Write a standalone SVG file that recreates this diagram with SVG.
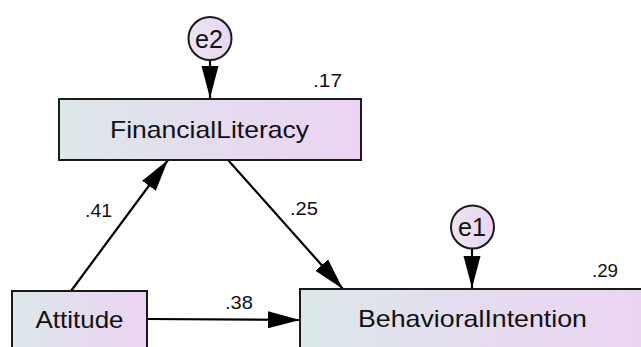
<svg xmlns="http://www.w3.org/2000/svg" width="641" height="347" viewBox="0 0 641 347">
<style>
.box{stroke:#1a1a1a;stroke-width:2;fill:url(#g)}
.circ{stroke:#1a1a1a;stroke-width:2;fill:url(#gc)}
.lbl{font-family:"Liberation Sans",Arial,sans-serif;font-size:24px;fill:#111;text-anchor:middle}
.num{font-family:"Liberation Sans",Arial,sans-serif;font-size:19px;fill:#111}
.err{font-family:"Liberation Sans",Arial,sans-serif;font-size:25px;fill:#111;text-anchor:middle}
.conn line{stroke:#000;stroke-width:2.2;marker-end:url(#ah)}
</style>
<defs>
<linearGradient id="g" x1="0" y1="0" x2="1" y2="0">
<stop offset="0" stop-color="#dce8e9"/>
<stop offset="0.55" stop-color="#e6dbef"/>
<stop offset="1" stop-color="#ebd4f3"/>
</linearGradient>
<linearGradient id="gc" x1="0" y1="0" x2="1" y2="0">
<stop offset="0" stop-color="#ebe6ef"/>
<stop offset="1" stop-color="#ead5f2"/>
</linearGradient>
<marker id="ah" markerUnits="userSpaceOnUse" markerWidth="34" markerHeight="18" refX="32" refY="8.5" orient="auto" viewBox="0 0 34 17">
<path d="M0,0 L32,8.5 L0,17 z" fill="#000"/>
</marker>
</defs>
<g class="conn" id="connectors">
<line x1="210" y1="60" x2="210" y2="98"/>
<line x1="472" y1="247" x2="472" y2="288"/>
<line x1="71" y1="291" x2="168" y2="160"/>
<line x1="228" y1="160" x2="343" y2="289"/>
<line x1="147" y1="319" x2="300" y2="320"/>
</g>
<g id="e2">
<circle class="circ" cx="210" cy="38.5" r="21.5"/>
<text class="err" x="209" y="47.5" textLength="28" lengthAdjust="spacingAndGlyphs">e2</text>
</g>
<g id="e1">
<circle class="circ" cx="472.5" cy="227" r="21.5"/>
<text class="err" x="472" y="236" textLength="28" lengthAdjust="spacingAndGlyphs">e1</text>
</g>
<g id="FinancialLiteracy">
<rect class="box" x="59" y="99" width="302" height="61"/>
<text class="lbl" x="209.5" y="137.5" textLength="199" lengthAdjust="spacingAndGlyphs">FinancialLiteracy</text>
<text class="num" x="313" y="87" textLength="29" lengthAdjust="spacingAndGlyphs">.17</text>
</g>
<g id="Attitude">
<rect class="box" x="12" y="291" width="135" height="61"/>
<text class="lbl" x="79.5" y="328" textLength="88" lengthAdjust="spacingAndGlyphs">Attitude</text>
</g>
<g id="BehavioralIntention">
<rect class="box" x="300" y="289" width="346" height="61"/>
<text class="lbl" x="472.5" y="327" textLength="229" lengthAdjust="spacingAndGlyphs">BehavioralIntention</text>
<text class="num" x="592" y="277" textLength="26" lengthAdjust="spacingAndGlyphs">.29</text>
</g>
<g id="path-labels">
<text class="num" x="85" y="217" textLength="27" lengthAdjust="spacingAndGlyphs">.41</text>
<text class="num" x="290" y="215" textLength="28" lengthAdjust="spacingAndGlyphs">.25</text>
<text class="num" x="225" y="309" textLength="28" lengthAdjust="spacingAndGlyphs">.38</text>
</g>
</svg>
